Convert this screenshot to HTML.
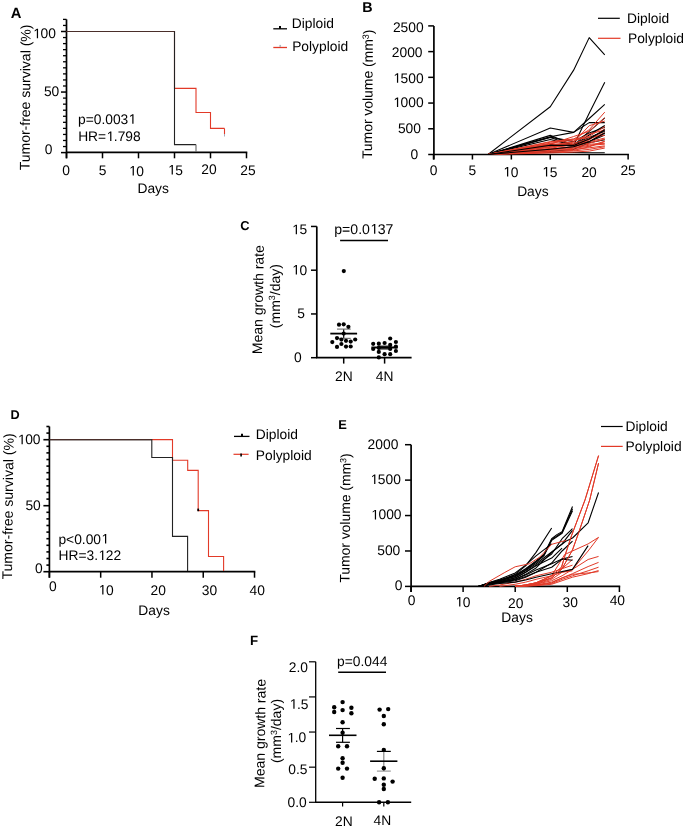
<!DOCTYPE html>
<html><head><meta charset="utf-8"><style>
html,body{margin:0;padding:0;background:#fff;}
svg{display:block;will-change:transform;}
text{font-family:"Liberation Sans",sans-serif;text-rendering:geometricPrecision;}
</style></head><body>
<svg width="685" height="830" viewBox="0 0 685 830">
<rect width="685" height="830" fill="#fff"/>
<text x="10.63" y="18.10" font-size="14.8" font-weight="bold" fill="#000" >A</text>
<line x1="66.50" y1="19.39" x2="66.50" y2="158.30" stroke="#000" stroke-width="1.7" stroke-linecap="butt"/>
<line x1="61.00" y1="152.60" x2="66.50" y2="152.60" stroke="#000" stroke-width="1.5" stroke-linecap="butt"/>
<line x1="63.00" y1="146.54" x2="66.50" y2="146.54" stroke="#000" stroke-width="1.3" stroke-linecap="butt"/>
<line x1="63.00" y1="140.49" x2="66.50" y2="140.49" stroke="#000" stroke-width="1.3" stroke-linecap="butt"/>
<line x1="63.00" y1="134.44" x2="66.50" y2="134.44" stroke="#000" stroke-width="1.3" stroke-linecap="butt"/>
<line x1="63.00" y1="128.38" x2="66.50" y2="128.38" stroke="#000" stroke-width="1.3" stroke-linecap="butt"/>
<line x1="63.00" y1="122.32" x2="66.50" y2="122.32" stroke="#000" stroke-width="1.3" stroke-linecap="butt"/>
<line x1="63.00" y1="116.27" x2="66.50" y2="116.27" stroke="#000" stroke-width="1.3" stroke-linecap="butt"/>
<line x1="63.00" y1="110.21" x2="66.50" y2="110.21" stroke="#000" stroke-width="1.3" stroke-linecap="butt"/>
<line x1="63.00" y1="104.16" x2="66.50" y2="104.16" stroke="#000" stroke-width="1.3" stroke-linecap="butt"/>
<line x1="63.00" y1="98.10" x2="66.50" y2="98.10" stroke="#000" stroke-width="1.3" stroke-linecap="butt"/>
<line x1="61.00" y1="92.05" x2="66.50" y2="92.05" stroke="#000" stroke-width="1.5" stroke-linecap="butt"/>
<line x1="63.00" y1="85.99" x2="66.50" y2="85.99" stroke="#000" stroke-width="1.3" stroke-linecap="butt"/>
<line x1="63.00" y1="79.94" x2="66.50" y2="79.94" stroke="#000" stroke-width="1.3" stroke-linecap="butt"/>
<line x1="63.00" y1="73.88" x2="66.50" y2="73.88" stroke="#000" stroke-width="1.3" stroke-linecap="butt"/>
<line x1="63.00" y1="67.83" x2="66.50" y2="67.83" stroke="#000" stroke-width="1.3" stroke-linecap="butt"/>
<line x1="63.00" y1="61.77" x2="66.50" y2="61.77" stroke="#000" stroke-width="1.3" stroke-linecap="butt"/>
<line x1="63.00" y1="55.72" x2="66.50" y2="55.72" stroke="#000" stroke-width="1.3" stroke-linecap="butt"/>
<line x1="63.00" y1="49.66" x2="66.50" y2="49.66" stroke="#000" stroke-width="1.3" stroke-linecap="butt"/>
<line x1="63.00" y1="43.61" x2="66.50" y2="43.61" stroke="#000" stroke-width="1.3" stroke-linecap="butt"/>
<line x1="63.00" y1="37.55" x2="66.50" y2="37.55" stroke="#000" stroke-width="1.3" stroke-linecap="butt"/>
<line x1="61.00" y1="31.50" x2="66.50" y2="31.50" stroke="#000" stroke-width="1.5" stroke-linecap="butt"/>
<line x1="63.00" y1="25.44" x2="66.50" y2="25.44" stroke="#000" stroke-width="1.3" stroke-linecap="butt"/>
<line x1="63.00" y1="19.39" x2="66.50" y2="19.39" stroke="#000" stroke-width="1.3" stroke-linecap="butt"/>
<line x1="66.50" y1="152.45" x2="247.30" y2="152.45" stroke="#000" stroke-width="1.7" stroke-linecap="butt"/>
<line x1="66.50" y1="152.60" x2="66.50" y2="158.30" stroke="#000" stroke-width="1.5" stroke-linecap="butt"/>
<line x1="102.50" y1="152.60" x2="102.50" y2="158.30" stroke="#000" stroke-width="1.5" stroke-linecap="butt"/>
<line x1="138.50" y1="152.60" x2="138.50" y2="158.30" stroke="#000" stroke-width="1.5" stroke-linecap="butt"/>
<line x1="174.50" y1="152.60" x2="174.50" y2="158.30" stroke="#000" stroke-width="1.5" stroke-linecap="butt"/>
<line x1="210.50" y1="152.60" x2="210.50" y2="158.30" stroke="#000" stroke-width="1.5" stroke-linecap="butt"/>
<line x1="246.50" y1="152.60" x2="246.50" y2="158.30" stroke="#000" stroke-width="1.5" stroke-linecap="butt"/>
<text x="32.83" y="38.30" font-size="13.8" fill="#000" style="font-kerning:none" > 00</text>
<path transform="translate(32.833,38.300) scale(0.006738,-0.006738)" d="M595,0 L595,1237 L277,1010 L277,1180 L610,1409 L776,1409 L776,0 Z" fill="#000"/>
<text x="43.95" y="96.10" font-size="13.8" fill="#000" >50</text>
<text x="44.86" y="154.20" font-size="13.8" fill="#000" >0</text>
<text x="62.26" y="174.60" font-size="13.8" fill="#000" >0</text>
<text x="98.75" y="174.60" font-size="13.8" fill="#000" >5</text>
<text x="128.63" y="175.60" font-size="13.8" fill="#000" style="font-kerning:none" > 0</text>
<path transform="translate(128.633,175.600) scale(0.006738,-0.006738)" d="M595,0 L595,1237 L277,1010 L277,1180 L610,1409 L776,1409 L776,0 Z" fill="#000"/>
<text x="167.63" y="174.60" font-size="13.8" fill="#000" style="font-kerning:none" > 5</text>
<path transform="translate(167.633,174.600) scale(0.006738,-0.006738)" d="M595,0 L595,1237 L277,1010 L277,1180 L610,1409 L776,1409 L776,0 Z" fill="#000"/>
<text x="201.31" y="174.00" font-size="13.8" fill="#000" >20</text>
<text x="240.21" y="174.70" font-size="13.8" fill="#000" >25</text>
<text x="137.47" y="193.30" font-size="13.8" fill="#000" >Days</text>
<text transform="translate(30.10,97.45) rotate(-89.6)" text-anchor="middle" font-size="14.0">Tumor-free survival (%)</text>
<path d="M66.5,31.5 H174.5 V88.4 H196.0 V112.5 H210.5 V128.4 H224.5" fill="none" stroke="#e23a28" stroke-width="1.1" />
<line x1="224.50" y1="128.40" x2="224.50" y2="134.00" stroke="#e23a28" stroke-width="1.1" stroke-linecap="butt"/>
<line x1="224.50" y1="134.00" x2="224.50" y2="136.50" stroke="#aab" stroke-width="1.0" stroke-linecap="butt"/>
<path d="M66.5,31.5 H174.5 V144.6 H196.0" fill="none" stroke="#222" stroke-width="1.1" />
<line x1="196.00" y1="144.60" x2="196.00" y2="152.00" stroke="#666" stroke-width="1.1" stroke-linecap="butt"/>
<line x1="66.50" y1="31.50" x2="174.50" y2="31.50" stroke="#4a2e2a" stroke-width="1.1" stroke-linecap="butt"/>
<text x="78.01" y="123.80" font-size="13.8" fill="#000" style="font-kerning:none" >p=0.003 </text>
<path transform="translate(128.278,123.800) scale(0.006738,-0.006738)" d="M595,0 L595,1237 L277,1010 L277,1180 L610,1409 L776,1409 L776,0 Z" fill="#000"/>
<text x="78.17" y="141.10" font-size="13.8" fill="#000" style="font-kerning:none" >HR= .798</text>
<path transform="translate(106.159,141.100) scale(0.006738,-0.006738)" d="M595,0 L595,1237 L277,1010 L277,1180 L610,1409 L776,1409 L776,0 Z" fill="#000"/>
<line x1="273.30" y1="28.80" x2="287.00" y2="28.80" stroke="#000" stroke-width="1.3" stroke-linecap="butt"/>
<line x1="280.00" y1="26.00" x2="280.00" y2="28.80" stroke="#000" stroke-width="2.0" stroke-linecap="butt"/>
<text x="291.77" y="27.90" font-size="13.8" fill="#000" >Diploid</text>
<line x1="273.30" y1="47.50" x2="287.00" y2="47.50" stroke="#e23a28" stroke-width="1.3" stroke-linecap="butt"/>
<line x1="280.20" y1="44.90" x2="280.20" y2="47.00" stroke="#b4b8bd" stroke-width="1.7" stroke-linecap="butt"/>
<text x="292.17" y="51.30" font-size="13.8" fill="#000" >Polyploid</text>
<text x="362.34" y="12.10" font-size="14.3" font-weight="bold" fill="#000" >B</text>
<line x1="433.90" y1="25.90" x2="433.90" y2="159.50" stroke="#000" stroke-width="1.7" stroke-linecap="butt"/>
<line x1="428.20" y1="154.50" x2="433.90" y2="154.50" stroke="#000" stroke-width="1.5" stroke-linecap="butt"/>
<line x1="428.20" y1="128.78" x2="433.90" y2="128.78" stroke="#000" stroke-width="1.5" stroke-linecap="butt"/>
<line x1="428.20" y1="103.06" x2="433.90" y2="103.06" stroke="#000" stroke-width="1.5" stroke-linecap="butt"/>
<line x1="428.20" y1="77.34" x2="433.90" y2="77.34" stroke="#000" stroke-width="1.5" stroke-linecap="butt"/>
<line x1="428.20" y1="51.62" x2="433.90" y2="51.62" stroke="#000" stroke-width="1.5" stroke-linecap="butt"/>
<line x1="428.20" y1="25.90" x2="433.90" y2="25.90" stroke="#000" stroke-width="1.5" stroke-linecap="butt"/>
<line x1="433.90" y1="154.50" x2="628.92" y2="154.50" stroke="#000" stroke-width="1.7" stroke-linecap="butt"/>
<line x1="433.50" y1="154.50" x2="433.50" y2="159.50" stroke="#000" stroke-width="1.5" stroke-linecap="butt"/>
<line x1="472.43" y1="154.50" x2="472.43" y2="159.50" stroke="#000" stroke-width="1.5" stroke-linecap="butt"/>
<line x1="511.35" y1="154.50" x2="511.35" y2="159.50" stroke="#000" stroke-width="1.5" stroke-linecap="butt"/>
<line x1="550.27" y1="154.50" x2="550.27" y2="159.50" stroke="#000" stroke-width="1.5" stroke-linecap="butt"/>
<line x1="589.20" y1="154.50" x2="589.20" y2="159.50" stroke="#000" stroke-width="1.5" stroke-linecap="butt"/>
<line x1="628.12" y1="154.50" x2="628.12" y2="159.50" stroke="#000" stroke-width="1.5" stroke-linecap="butt"/>
<text x="410.46" y="159.40" font-size="13.8" fill="#000" >0</text>
<text x="397.91" y="133.08" font-size="13.8" fill="#000" >500</text>
<text x="392.94" y="107.06" font-size="13.8" fill="#000" style="font-kerning:none" > 000</text>
<path transform="translate(392.939,107.060) scale(0.006738,-0.006738)" d="M595,0 L595,1237 L277,1010 L277,1180 L610,1409 L776,1409 L776,0 Z" fill="#000"/>
<text x="392.94" y="82.84" font-size="13.8" fill="#000" style="font-kerning:none" > 500</text>
<path transform="translate(392.939,82.840) scale(0.006738,-0.006738)" d="M595,0 L595,1237 L277,1010 L277,1180 L610,1409 L776,1409 L776,0 Z" fill="#000"/>
<text x="391.84" y="56.82" font-size="13.8" fill="#000" >2000</text>
<text x="392.94" y="31.60" font-size="13.8" fill="#000" >2500</text>
<text x="429.66" y="175.20" font-size="13.8" fill="#000" >0</text>
<text x="468.60" y="175.20" font-size="13.8" fill="#000" >5</text>
<text x="503.01" y="176.50" font-size="13.8" fill="#000" style="font-kerning:none" > 0</text>
<path transform="translate(503.011,176.500) scale(0.006738,-0.006738)" d="M595,0 L595,1237 L277,1010 L277,1180 L610,1409 L776,1409 L776,0 Z" fill="#000"/>
<text x="541.96" y="176.50" font-size="13.8" fill="#000" style="font-kerning:none" > 5</text>
<path transform="translate(541.957,176.500) scale(0.006738,-0.006738)" d="M595,0 L595,1237 L277,1010 L277,1180 L610,1409 L776,1409 L776,0 Z" fill="#000"/>
<text x="581.45" y="176.80" font-size="13.8" fill="#000" >20</text>
<text x="620.39" y="175.40" font-size="13.8" fill="#000" >25</text>
<text x="517.17" y="196.20" font-size="13.8" fill="#000" >Days</text>
<text transform="translate(372.5,94.35) rotate(-89.55)" text-anchor="middle" font-size="13.9">Tumor volume (mm<tspan font-size="9" dy="-4.2">3</tspan><tspan dy="4.2">)</tspan></text>
<path d="M488.00,154.50 L550.27,106.71 L573.63,70.14 L589.20,37.63 L604.77,54.76" fill="none" stroke="#000" stroke-width="1.1" stroke-linejoin="round"/>
<path d="M488.00,154.50 L550.27,135.36 L573.63,145.40 L589.20,113.35 L604.77,82.33" fill="none" stroke="#000" stroke-width="1.1" stroke-linejoin="round"/>
<path d="M488.00,154.50 L550.27,136.75 L573.63,132.38 L589.20,118.49 L604.77,104.29" fill="none" stroke="#000" stroke-width="1.1" stroke-linejoin="round"/>
<path d="M488.00,154.50 L550.27,128.01 L573.63,132.38 L589.20,122.61 L604.77,122.61" fill="none" stroke="#000" stroke-width="1.1" stroke-linejoin="round"/>
<path d="M488.00,154.50 L550.27,137.52 L573.63,145.40 L589.20,131.35 L604.77,117.82" fill="none" stroke="#000" stroke-width="1.1" stroke-linejoin="round"/>
<path d="M488.00,154.50 L550.27,139.48 L573.63,145.40 L589.20,134.95 L604.77,125.44" fill="none" stroke="#000" stroke-width="1.1" stroke-linejoin="round"/>
<path d="M488.00,154.50 L550.27,137.16 L573.63,141.64 L589.20,132.90 L604.77,127.34" fill="none" stroke="#000" stroke-width="1.1" stroke-linejoin="round"/>
<path d="M488.00,154.50 L550.27,146.78 L573.63,144.21 L589.20,137.52 L604.77,131.35" fill="none" stroke="#000" stroke-width="1.1" stroke-linejoin="round"/>
<path d="M488.00,154.50 L550.27,144.21 L573.63,146.27 L589.20,141.64 L604.77,134.95" fill="none" stroke="#000" stroke-width="1.1" stroke-linejoin="round"/>
<path d="M488.00,154.50 L550.27,151.41 L573.63,149.36 L589.20,142.67 L604.77,139.69" fill="none" stroke="#000" stroke-width="1.1" stroke-linejoin="round"/>
<path d="M488.00,154.50 L550.27,152.39 L573.63,152.44 L589.20,152.70 L604.77,152.80" fill="none" stroke="#000" stroke-width="1.1" stroke-linejoin="round"/>
<path d="M488.00,154.50 L550.27,145.19 L573.63,145.40 L589.20,139.07 L604.77,129.76" fill="none" stroke="#000" stroke-width="1.1" stroke-linejoin="round"/>
<path d="M488.00,154.50 L550.27,149.20 L573.63,146.78 L589.20,141.64 L604.77,133.05" fill="none" stroke="#000" stroke-width="1.1" stroke-linejoin="round"/>
<path d="M488.00,154.50 L550.27,141.64 L573.63,139.07 L589.20,129.81 L604.77,112.11" fill="none" stroke="#e23a28" stroke-width="1.0" stroke-linejoin="round"/>
<path d="M488.00,154.50 L550.27,144.21 L573.63,136.50 L589.20,131.35 L604.77,117.82" fill="none" stroke="#e23a28" stroke-width="1.0" stroke-linejoin="round"/>
<path d="M488.00,154.50 L550.27,142.15 L573.63,139.07 L589.20,136.50 L604.77,126.62" fill="none" stroke="#e23a28" stroke-width="1.0" stroke-linejoin="round"/>
<path d="M488.00,154.50 L550.27,145.24 L573.63,141.64 L589.20,133.92 L604.77,130.17" fill="none" stroke="#e23a28" stroke-width="1.0" stroke-linejoin="round"/>
<path d="M488.00,154.50 L550.27,146.78 L573.63,143.18 L589.20,139.07 L604.77,132.74" fill="none" stroke="#e23a28" stroke-width="1.0" stroke-linejoin="round"/>
<path d="M488.00,154.50 L550.27,143.18 L573.63,140.10 L589.20,137.52 L604.77,135.36" fill="none" stroke="#e23a28" stroke-width="1.0" stroke-linejoin="round"/>
<path d="M488.00,154.50 L550.27,148.33 L573.63,144.21 L589.20,141.64 L604.77,138.04" fill="none" stroke="#e23a28" stroke-width="1.0" stroke-linejoin="round"/>
<path d="M488.00,154.50 L550.27,149.36 L573.63,146.78 L589.20,144.21 L604.77,143.29" fill="none" stroke="#e23a28" stroke-width="1.0" stroke-linejoin="round"/>
<path d="M488.00,154.50 L550.27,150.38 L573.63,149.36 L589.20,147.81 L604.77,145.86" fill="none" stroke="#e23a28" stroke-width="1.0" stroke-linejoin="round"/>
<path d="M488.00,154.50 L550.27,152.96 L573.63,152.08 L589.20,151.10 L604.77,148.07" fill="none" stroke="#e23a28" stroke-width="1.0" stroke-linejoin="round"/>
<path d="M488.00,154.50 L550.27,145.76 L573.63,142.15 L589.20,125.69 L604.77,121.06" fill="none" stroke="#e23a28" stroke-width="1.0" stroke-linejoin="round"/>
<path d="M488.00,154.50 L550.27,147.30 L573.63,145.24 L589.20,140.10 L604.77,128.78" fill="none" stroke="#e23a28" stroke-width="1.0" stroke-linejoin="round"/>
<path d="M488.00,154.50 L550.27,151.41 L573.63,150.38 L589.20,146.78 L604.77,141.64" fill="none" stroke="#e23a28" stroke-width="1.0" stroke-linejoin="round"/>
<path d="M488.00,154.50 L550.27,143.70 L573.63,145.24 L589.20,143.18 L604.77,139.07" fill="none" stroke="#e23a28" stroke-width="1.0" stroke-linejoin="round"/>
<path d="M488.00,154.50 L550.27,148.84 L573.63,147.81 L589.20,145.24 L604.77,144.21" fill="none" stroke="#e23a28" stroke-width="1.0" stroke-linejoin="round"/>
<path d="M488.00,154.50 L550.27,152.19 L573.63,150.90 L589.20,149.36 L604.77,146.78" fill="none" stroke="#e23a28" stroke-width="1.0" stroke-linejoin="round"/>
<path d="M488.00,154.50 L550.27,149.87 L573.63,148.33 L589.20,146.27 L604.77,141.13" fill="none" stroke="#e23a28" stroke-width="1.0" stroke-linejoin="round"/>
<path d="M488.00,154.50 L550.27,145.19 L573.63,145.40 L589.20,139.07 L604.77,129.76" fill="none" stroke="#000" stroke-width="1.1" stroke-linejoin="round"/>
<path d="M488.00,154.50 L550.27,149.20 L573.63,146.78 L589.20,141.64 L604.77,133.05" fill="none" stroke="#000" stroke-width="1.1" stroke-linejoin="round"/>
<line x1="598.00" y1="18.30" x2="619.80" y2="18.30" stroke="#000" stroke-width="1.2" stroke-linecap="butt"/>
<line x1="598.00" y1="38.30" x2="620.50" y2="38.30" stroke="#e23a28" stroke-width="1.2" stroke-linecap="butt"/>
<text x="627.07" y="22.60" font-size="13.8" fill="#000" >Diploid</text>
<text x="627.97" y="42.80" font-size="13.8" fill="#000" >Polyploid</text>
<text x="240.37" y="230.20" font-size="12.9" font-weight="bold" fill="#000" >C</text>
<line x1="316.80" y1="226.45" x2="316.80" y2="357.70" stroke="#000" stroke-width="1.7" stroke-linecap="butt"/>
<line x1="311.00" y1="357.70" x2="316.80" y2="357.70" stroke="#000" stroke-width="1.5" stroke-linecap="butt"/>
<line x1="311.00" y1="313.95" x2="316.80" y2="313.95" stroke="#000" stroke-width="1.5" stroke-linecap="butt"/>
<line x1="311.00" y1="270.20" x2="316.80" y2="270.20" stroke="#000" stroke-width="1.5" stroke-linecap="butt"/>
<line x1="311.00" y1="226.45" x2="316.80" y2="226.45" stroke="#000" stroke-width="1.5" stroke-linecap="butt"/>
<line x1="316.00" y1="357.70" x2="411.60" y2="357.70" stroke="#000" stroke-width="1.7" stroke-linecap="butt"/>
<line x1="343.70" y1="357.70" x2="343.70" y2="363.60" stroke="#000" stroke-width="1.5" stroke-linecap="butt"/>
<line x1="384.60" y1="357.70" x2="384.60" y2="363.60" stroke="#000" stroke-width="1.5" stroke-linecap="butt"/>
<text x="291.73" y="234.20" font-size="13.8" fill="#000" style="font-kerning:none" > 5</text>
<path transform="translate(291.733,234.200) scale(0.006738,-0.006738)" d="M595,0 L595,1237 L277,1010 L277,1180 L610,1409 L776,1409 L776,0 Z" fill="#000"/>
<text x="291.73" y="274.60" font-size="13.8" fill="#000" style="font-kerning:none" > 0</text>
<path transform="translate(291.733,274.600) scale(0.006738,-0.006738)" d="M595,0 L595,1237 L277,1010 L277,1180 L610,1409 L776,1409 L776,0 Z" fill="#000"/>
<text x="297.35" y="318.10" font-size="13.8" fill="#000" >5</text>
<text x="293.96" y="362.40" font-size="13.8" fill="#000" >0</text>
<text x="335.01" y="381.10" font-size="13.8" fill="#000" >2N</text>
<text x="375.78" y="381.10" font-size="13.8" fill="#000" >4N</text>
<text x="334.29" y="233.80" font-size="14.1" fill="#000" style="font-kerning:none" >p=0.0 37</text>
<path transform="translate(369.968,233.800) scale(0.006885,-0.006885)" d="M595,0 L595,1237 L277,1010 L277,1180 L610,1409 L776,1409 L776,0 Z" fill="#000"/>
<line x1="340.10" y1="240.40" x2="388.00" y2="240.40" stroke="#000" stroke-width="1.5" stroke-linecap="butt"/>
<text transform="translate(262.9,299.7) rotate(-89)" text-anchor="middle" font-size="14.0">Mean growth rate</text>
<text transform="translate(279.5,296.1) rotate(-90)" text-anchor="middle" font-size="14.0">(mm<tspan font-size="9" dy="-4.2">3</tspan><tspan dy="4.2">/day)</tspan></text>
<line x1="343.70" y1="329.10" x2="343.70" y2="338.40" stroke="#000" stroke-width="1.2" stroke-linecap="butt"/>
<line x1="337.00" y1="329.10" x2="350.70" y2="329.10" stroke="#777" stroke-width="1.2" stroke-linecap="butt"/>
<line x1="337.00" y1="338.40" x2="350.70" y2="338.40" stroke="#777" stroke-width="1.2" stroke-linecap="butt"/>
<circle cx="339.00" cy="324.70" r="2.1" fill="#000"/>
<circle cx="343.70" cy="324.30" r="2.1" fill="#000"/>
<circle cx="348.40" cy="326.80" r="2.1" fill="#000"/>
<circle cx="343.70" cy="333.60" r="2.1" fill="#000"/>
<circle cx="337.00" cy="338.10" r="2.1" fill="#000"/>
<circle cx="341.40" cy="339.60" r="2.1" fill="#000"/>
<circle cx="346.00" cy="340.80" r="2.1" fill="#000"/>
<circle cx="350.70" cy="341.60" r="2.1" fill="#000"/>
<circle cx="355.20" cy="339.50" r="2.1" fill="#000"/>
<circle cx="332.30" cy="342.10" r="2.1" fill="#000"/>
<circle cx="341.40" cy="344.00" r="2.1" fill="#000"/>
<circle cx="337.00" cy="346.90" r="2.1" fill="#000"/>
<circle cx="346.00" cy="346.60" r="2.1" fill="#000"/>
<circle cx="350.70" cy="346.50" r="2.1" fill="#000"/>
<circle cx="343.80" cy="271.10" r="2.1" fill="#000"/>
<line x1="330.30" y1="333.60" x2="357.10" y2="333.60" stroke="#000" stroke-width="1.8" stroke-linecap="butt"/>
<circle cx="390.20" cy="338.50" r="2.1" fill="#000"/>
<circle cx="373.20" cy="343.80" r="2.1" fill="#000"/>
<circle cx="378.80" cy="343.70" r="2.1" fill="#000"/>
<circle cx="384.60" cy="343.00" r="2.1" fill="#000"/>
<circle cx="395.90" cy="342.00" r="2.1" fill="#000"/>
<circle cx="390.20" cy="344.90" r="2.1" fill="#000"/>
<circle cx="373.20" cy="349.00" r="2.1" fill="#000"/>
<circle cx="395.90" cy="346.60" r="2.1" fill="#000"/>
<circle cx="390.20" cy="349.00" r="2.1" fill="#000"/>
<circle cx="378.80" cy="351.90" r="2.1" fill="#000"/>
<circle cx="395.90" cy="351.00" r="2.1" fill="#000"/>
<circle cx="384.60" cy="354.20" r="2.1" fill="#000"/>
<circle cx="390.20" cy="354.20" r="2.1" fill="#000"/>
<circle cx="378.80" cy="357.40" r="2.1" fill="#000"/>
<circle cx="378.80" cy="347.80" r="2.1" fill="#000"/>
<line x1="377.70" y1="346.20" x2="391.50" y2="346.20" stroke="#000" stroke-width="1.2" stroke-linecap="butt"/>
<line x1="377.70" y1="348.90" x2="391.50" y2="348.90" stroke="#000" stroke-width="1.2" stroke-linecap="butt"/>
<line x1="371.40" y1="347.50" x2="397.70" y2="347.50" stroke="#000" stroke-width="2.0" stroke-linecap="butt"/>
<text x="10.55" y="418.50" font-size="12.7" font-weight="bold" fill="#000" >D</text>
<line x1="49.40" y1="426.50" x2="49.40" y2="577.70" stroke="#000" stroke-width="1.7" stroke-linecap="butt"/>
<line x1="43.40" y1="571.70" x2="49.40" y2="571.70" stroke="#000" stroke-width="1.6" stroke-linecap="butt"/>
<line x1="46.40" y1="565.10" x2="49.40" y2="565.10" stroke="#000" stroke-width="1.6" stroke-linecap="butt"/>
<line x1="46.40" y1="558.50" x2="49.40" y2="558.50" stroke="#000" stroke-width="1.6" stroke-linecap="butt"/>
<line x1="46.40" y1="551.90" x2="49.40" y2="551.90" stroke="#000" stroke-width="1.6" stroke-linecap="butt"/>
<line x1="46.40" y1="545.30" x2="49.40" y2="545.30" stroke="#000" stroke-width="1.6" stroke-linecap="butt"/>
<line x1="46.40" y1="538.70" x2="49.40" y2="538.70" stroke="#000" stroke-width="1.6" stroke-linecap="butt"/>
<line x1="46.40" y1="532.10" x2="49.40" y2="532.10" stroke="#000" stroke-width="1.6" stroke-linecap="butt"/>
<line x1="46.40" y1="525.50" x2="49.40" y2="525.50" stroke="#000" stroke-width="1.6" stroke-linecap="butt"/>
<line x1="46.40" y1="518.90" x2="49.40" y2="518.90" stroke="#000" stroke-width="1.6" stroke-linecap="butt"/>
<line x1="46.40" y1="512.30" x2="49.40" y2="512.30" stroke="#000" stroke-width="1.6" stroke-linecap="butt"/>
<line x1="43.40" y1="505.70" x2="49.40" y2="505.70" stroke="#000" stroke-width="1.6" stroke-linecap="butt"/>
<line x1="46.40" y1="499.10" x2="49.40" y2="499.10" stroke="#000" stroke-width="1.6" stroke-linecap="butt"/>
<line x1="46.40" y1="492.50" x2="49.40" y2="492.50" stroke="#000" stroke-width="1.6" stroke-linecap="butt"/>
<line x1="46.40" y1="485.90" x2="49.40" y2="485.90" stroke="#000" stroke-width="1.6" stroke-linecap="butt"/>
<line x1="46.40" y1="479.30" x2="49.40" y2="479.30" stroke="#000" stroke-width="1.6" stroke-linecap="butt"/>
<line x1="46.40" y1="472.70" x2="49.40" y2="472.70" stroke="#000" stroke-width="1.6" stroke-linecap="butt"/>
<line x1="46.40" y1="466.10" x2="49.40" y2="466.10" stroke="#000" stroke-width="1.6" stroke-linecap="butt"/>
<line x1="46.40" y1="459.50" x2="49.40" y2="459.50" stroke="#000" stroke-width="1.6" stroke-linecap="butt"/>
<line x1="46.40" y1="452.90" x2="49.40" y2="452.90" stroke="#000" stroke-width="1.6" stroke-linecap="butt"/>
<line x1="46.40" y1="446.30" x2="49.40" y2="446.30" stroke="#000" stroke-width="1.6" stroke-linecap="butt"/>
<line x1="43.40" y1="439.70" x2="49.40" y2="439.70" stroke="#000" stroke-width="1.6" stroke-linecap="butt"/>
<line x1="46.40" y1="433.10" x2="49.40" y2="433.10" stroke="#000" stroke-width="1.6" stroke-linecap="butt"/>
<line x1="46.40" y1="426.50" x2="49.40" y2="426.50" stroke="#000" stroke-width="1.6" stroke-linecap="butt"/>
<line x1="49.40" y1="571.70" x2="255.32" y2="571.70" stroke="#000" stroke-width="1.7" stroke-linecap="butt"/>
<line x1="49.40" y1="571.70" x2="49.40" y2="577.70" stroke="#000" stroke-width="1.5" stroke-linecap="butt"/>
<line x1="100.68" y1="571.70" x2="100.68" y2="577.70" stroke="#000" stroke-width="1.5" stroke-linecap="butt"/>
<line x1="151.96" y1="571.70" x2="151.96" y2="577.70" stroke="#000" stroke-width="1.5" stroke-linecap="butt"/>
<line x1="203.24" y1="571.70" x2="203.24" y2="577.70" stroke="#000" stroke-width="1.5" stroke-linecap="butt"/>
<line x1="254.52" y1="571.70" x2="254.52" y2="577.70" stroke="#000" stroke-width="1.5" stroke-linecap="butt"/>
<text x="17.53" y="444.20" font-size="13.8" fill="#000" style="font-kerning:none" > 00</text>
<path transform="translate(17.533,444.200) scale(0.006738,-0.006738)" d="M595,0 L595,1237 L277,1010 L277,1180 L610,1409 L776,1409 L776,0 Z" fill="#000"/>
<text x="25.45" y="509.50" font-size="13.8" fill="#000" >50</text>
<text x="35.06" y="573.10" font-size="13.8" fill="#000" >0</text>
<text x="49.06" y="590.80" font-size="13.8" fill="#000" >0</text>
<text x="98.23" y="594.60" font-size="13.8" fill="#000" style="font-kerning:none" > 0</text>
<path transform="translate(98.233,594.600) scale(0.006738,-0.006738)" d="M595,0 L595,1237 L277,1010 L277,1180 L610,1409 L776,1409 L776,0 Z" fill="#000"/>
<text x="150.51" y="594.80" font-size="13.8" fill="#000" >20</text>
<text x="201.87" y="595.00" font-size="13.8" fill="#000" >30</text>
<text x="249.48" y="594.70" font-size="13.8" fill="#000" >40</text>
<text x="138.37" y="614.90" font-size="13.8" fill="#000" >Days</text>
<text transform="translate(12.80,506.45) rotate(-89.37)" text-anchor="middle" font-size="14.05">Tumor-free survival (%)</text>
<path d="M152.0,439.6 H172.5 V460.3 H187.7 V470.4 H198.2 V510.6 H208.5 V556.5 H223.6 V571.0" fill="none" stroke="#e23a28" stroke-width="1.1" />
<path d="M49.4,439.6 H151.8 V457.5 H172.5 V536.4 H187.6 V571.0" fill="none" stroke="#222" stroke-width="1.1" />
<line x1="49.40" y1="439.60" x2="151.80" y2="439.60" stroke="#4a2e2a" stroke-width="1.1" stroke-linecap="butt"/>
<line x1="198.20" y1="508.60" x2="198.20" y2="511.20" stroke="#000" stroke-width="1.8" stroke-linecap="butt"/>
<text x="58.41" y="543.60" font-size="13.8" fill="#000" style="font-kerning:none" >p&lt;0.00 </text>
<path transform="translate(101.003,543.600) scale(0.006738,-0.006738)" d="M595,0 L595,1237 L277,1010 L277,1180 L610,1409 L776,1409 L776,0 Z" fill="#000"/>
<text x="58.57" y="559.90" font-size="13.8" fill="#000" style="font-kerning:none" >HR=3. 22</text>
<path transform="translate(98.068,559.900) scale(0.006738,-0.006738)" d="M595,0 L595,1237 L277,1010 L277,1180 L610,1409 L776,1409 L776,0 Z" fill="#000"/>
<line x1="234.00" y1="436.40" x2="249.50" y2="436.40" stroke="#000" stroke-width="1.3" stroke-linecap="butt"/>
<line x1="242.00" y1="433.80" x2="242.00" y2="436.40" stroke="#000" stroke-width="2.0" stroke-linecap="butt"/>
<text x="255.77" y="438.90" font-size="13.8" fill="#000" >Diploid</text>
<line x1="233.50" y1="454.30" x2="248.60" y2="454.30" stroke="#e23a28" stroke-width="1.2" stroke-linecap="butt"/>
<line x1="241.10" y1="453.40" x2="241.10" y2="456.50" stroke="#000" stroke-width="1.6" stroke-linecap="butt"/>
<text x="255.77" y="460.40" font-size="13.8" fill="#000" >Polyploid</text>
<text x="338.24" y="429.40" font-size="12.9" font-weight="bold" fill="#000" >E</text>
<line x1="411.10" y1="444.70" x2="411.10" y2="592.00" stroke="#000" stroke-width="1.7" stroke-linecap="butt"/>
<line x1="405.00" y1="586.40" x2="411.10" y2="586.40" stroke="#000" stroke-width="1.5" stroke-linecap="butt"/>
<line x1="405.00" y1="550.98" x2="411.10" y2="550.98" stroke="#000" stroke-width="1.5" stroke-linecap="butt"/>
<line x1="405.00" y1="515.55" x2="411.10" y2="515.55" stroke="#000" stroke-width="1.5" stroke-linecap="butt"/>
<line x1="405.00" y1="480.12" x2="411.10" y2="480.12" stroke="#000" stroke-width="1.5" stroke-linecap="butt"/>
<line x1="405.00" y1="444.70" x2="411.10" y2="444.70" stroke="#000" stroke-width="1.5" stroke-linecap="butt"/>
<line x1="411.10" y1="586.40" x2="620.20" y2="586.40" stroke="#000" stroke-width="1.7" stroke-linecap="butt"/>
<line x1="411.00" y1="586.40" x2="411.00" y2="592.00" stroke="#000" stroke-width="1.5" stroke-linecap="butt"/>
<line x1="463.10" y1="586.40" x2="463.10" y2="592.00" stroke="#000" stroke-width="1.5" stroke-linecap="butt"/>
<line x1="515.20" y1="586.40" x2="515.20" y2="592.00" stroke="#000" stroke-width="1.5" stroke-linecap="butt"/>
<line x1="567.30" y1="586.40" x2="567.30" y2="592.00" stroke="#000" stroke-width="1.5" stroke-linecap="butt"/>
<line x1="619.40" y1="586.40" x2="619.40" y2="592.00" stroke="#000" stroke-width="1.5" stroke-linecap="butt"/>
<text x="367.61" y="448.90" font-size="13.8" fill="#000" >2000</text>
<text x="370.13" y="484.10" font-size="13.8" fill="#000" style="font-kerning:none" > 500</text>
<path transform="translate(370.133,484.100) scale(0.006738,-0.006738)" d="M595,0 L595,1237 L277,1010 L277,1180 L610,1409 L776,1409 L776,0 Z" fill="#000"/>
<text x="370.83" y="519.40" font-size="13.8" fill="#000" style="font-kerning:none" > 000</text>
<path transform="translate(370.833,519.400) scale(0.006738,-0.006738)" d="M595,0 L595,1237 L277,1010 L277,1180 L610,1409 L776,1409 L776,0 Z" fill="#000"/>
<text x="377.25" y="555.00" font-size="13.8" fill="#000" >500</text>
<text x="394.86" y="590.10" font-size="13.8" fill="#000" >0</text>
<text x="407.86" y="604.90" font-size="13.8" fill="#000" >0</text>
<text x="455.13" y="606.50" font-size="13.8" fill="#000" style="font-kerning:none" > 0</text>
<path transform="translate(455.133,606.500) scale(0.006738,-0.006738)" d="M595,0 L595,1237 L277,1010 L277,1180 L610,1409 L776,1409 L776,0 Z" fill="#000"/>
<text x="508.01" y="607.50" font-size="13.8" fill="#000" >20</text>
<text x="562.47" y="607.30" font-size="13.8" fill="#000" >30</text>
<text x="609.68" y="605.20" font-size="13.8" fill="#000" >40</text>
<text x="501.37" y="621.60" font-size="13.8" fill="#000" >Days</text>
<text transform="translate(350.05,518.05) rotate(-89.5)" text-anchor="middle" font-size="13.9">Tumor volume (mm<tspan font-size="9" dy="-4.2">3</tspan><tspan dy="4.2">)</tspan></text>
<path d="M515.20,586.40 L525.62,584.98 L536.04,582.86 L551.67,575.77 L561.57,567.20 L564.69,556.43 L571.47,535.81 L585.01,499.96 L598.56,455.61" fill="none" stroke="#e23a28" stroke-width="1.0" stroke-linejoin="round"/>
<path d="M515.20,586.40 L525.62,585.69 L536.04,583.57 L551.67,577.90 L562.09,568.69 L572.51,549.91 L578.76,532.48 L589.70,499.96 L598.56,463.19" fill="none" stroke="#e23a28" stroke-width="1.0" stroke-linejoin="round"/>
<path d="M515.20,586.40 L525.62,584.98 L536.04,582.86 L551.67,575.77 L564.69,554.52 L572.51,550.98 L588.14,543.89 L598.56,537.37" fill="none" stroke="#e23a28" stroke-width="1.0" stroke-linejoin="round"/>
<path d="M515.20,586.40 L525.62,585.69 L536.04,584.27 L551.67,580.73 L562.09,575.77 L572.51,569.40 L588.14,559.48 L598.56,556.43" fill="none" stroke="#e23a28" stroke-width="1.0" stroke-linejoin="round"/>
<path d="M515.20,586.40 L525.62,585.69 L536.04,584.98 L551.67,582.15 L562.09,577.90 L572.51,573.65 L588.14,566.56 L598.56,562.38" fill="none" stroke="#e23a28" stroke-width="1.0" stroke-linejoin="round"/>
<path d="M515.20,586.40 L525.62,586.05 L536.04,584.98 L551.67,583.57 L562.09,579.31 L572.51,575.77 L588.14,570.81 L598.56,567.20" fill="none" stroke="#e23a28" stroke-width="1.0" stroke-linejoin="round"/>
<path d="M515.20,586.40 L525.62,586.05 L536.04,585.69 L551.67,584.27 L562.09,580.73 L572.51,577.19 L588.14,573.65 L598.56,570.53" fill="none" stroke="#e23a28" stroke-width="1.0" stroke-linejoin="round"/>
<path d="M515.20,586.40 L525.62,586.05 L536.04,585.34 L551.67,582.86 L562.09,577.90 L572.51,574.36 L588.14,572.94 L598.56,571.59" fill="none" stroke="#e23a28" stroke-width="1.0" stroke-linejoin="round"/>
<path d="M499.57,586.40 L515.20,584.27 L525.62,582.15 L536.04,579.31 L551.67,575.77 L562.09,572.23 L572.51,570.81" fill="none" stroke="#e23a28" stroke-width="1.0" stroke-linejoin="round"/>
<path d="M489.15,586.40 L499.57,584.98 L515.20,582.15 L525.62,579.31 L536.04,575.77 L551.67,572.23 L562.09,568.69 L572.51,565.14" fill="none" stroke="#e23a28" stroke-width="1.0" stroke-linejoin="round"/>
<path d="M515.20,586.40 L525.62,584.98 L536.04,582.86 L551.67,577.90 L562.09,568.69 L572.51,559.48" fill="none" stroke="#e23a28" stroke-width="1.0" stroke-linejoin="round"/>
<path d="M515.20,586.40 L525.62,585.69 L536.04,584.27 L551.67,579.31 L562.09,572.23 L572.51,569.40 L588.14,550.98 L598.56,537.37" fill="none" stroke="#e23a28" stroke-width="1.0" stroke-linejoin="round"/>
<path d="M478.73,586.40 L489.15,583.57 L499.57,580.73 L515.20,574.36 L525.62,565.85 L536.04,552.39 L551.67,528.02" fill="none" stroke="#000" stroke-width="1.1" stroke-linejoin="round"/>
<path d="M478.73,586.40 L489.15,582.86 L499.57,580.02 L515.20,575.06 L525.62,568.69 L536.04,560.89 L543.86,554.52 L551.67,538.72 L556.88,534.61 L562.09,531.63 L572.51,506.48" fill="none" stroke="#000" stroke-width="1.1" stroke-linejoin="round"/>
<path d="M478.73,586.40 L489.15,583.21 L499.57,580.38 L515.20,575.77 L525.62,569.40 L536.04,561.60 L543.86,555.23 L551.67,539.64 L562.09,532.55 L572.51,508.68" fill="none" stroke="#000" stroke-width="1.1" stroke-linejoin="round"/>
<path d="M478.73,586.40 L489.15,582.86 L499.57,580.73 L515.20,576.48 L525.62,570.10 L536.04,562.31 L543.86,555.93 L551.67,540.35 L562.09,533.26 L572.51,510.80" fill="none" stroke="#000" stroke-width="1.1" stroke-linejoin="round"/>
<path d="M478.73,586.40 L489.15,583.92 L499.57,581.79 L515.20,577.90 L525.62,572.23 L536.04,565.14 L551.67,554.02 L562.09,538.72 L572.51,528.52" fill="none" stroke="#000" stroke-width="1.1" stroke-linejoin="round"/>
<path d="M478.73,586.40 L489.15,583.57 L499.57,582.15 L515.20,579.31 L525.62,574.36 L536.04,567.98 L551.67,552.39 L565.74,541.20 L572.51,538.01 L588.14,522.78 L598.56,492.45" fill="none" stroke="#000" stroke-width="1.1" stroke-linejoin="round"/>
<path d="M478.73,586.40 L489.15,584.27 L499.57,582.50 L515.20,580.02 L525.62,576.48 L536.04,572.23 L551.67,567.20 L562.09,559.12 L572.51,556.43" fill="none" stroke="#000" stroke-width="1.1" stroke-linejoin="round"/>
<path d="M478.73,586.40 L489.15,583.92 L499.57,582.15 L515.20,579.31 L525.62,575.06 L536.04,570.10 L551.67,563.73 L562.09,559.12 L572.51,560.19" fill="none" stroke="#000" stroke-width="1.1" stroke-linejoin="round"/>
<path d="M478.73,586.40 L489.15,584.98 L499.57,583.57 L515.20,582.15 L525.62,580.02 L536.04,577.19 L551.67,573.79 L572.51,569.40 L588.14,545.59" fill="none" stroke="#000" stroke-width="1.1" stroke-linejoin="round"/>
<path d="M478.73,586.40 L489.15,583.21 L499.57,580.73 L515.20,576.48 L525.62,570.81 L536.04,563.73 L551.67,551.97 L562.09,543.89 L572.51,530.43" fill="none" stroke="#000" stroke-width="1.1" stroke-linejoin="round"/>
<path d="M478.73,586.40 L489.15,584.27 L499.57,582.86 L515.20,580.73 L525.62,577.19 L536.04,572.23 L551.67,563.02 L562.09,550.98 L572.51,541.06" fill="none" stroke="#000" stroke-width="1.1" stroke-linejoin="round"/>
<path d="M478.73,586.40 L489.15,582.50 L499.57,579.31 L515.20,572.94 L525.62,565.14 L536.04,555.93 L551.67,543.89" fill="none" stroke="#000" stroke-width="1.1" stroke-linejoin="round"/>
<path d="M478.73,586.40 L489.15,583.57 L499.57,581.44 L515.20,577.90 L525.62,572.23 L536.04,565.85 L551.67,558.06 L562.09,548.14" fill="none" stroke="#000" stroke-width="1.1" stroke-linejoin="round"/>
<path d="M483.94,586.40 L489.15,581.44 L504.78,572.44 L515.20,566.77 L529.27,563.80 L539.69,557.14 L551.67,544.32 L566.26,540.35" fill="none" stroke="#e23a28" stroke-width="1.0" stroke-linejoin="round"/>
<path d="M515.20,586.40 L525.62,584.98 L536.04,582.86 L551.67,575.77 L561.57,567.20 L564.69,556.43 L571.47,535.81 L585.01,499.96 L598.56,455.61" fill="none" stroke="#e23a28" stroke-width="1.0" stroke-linejoin="round"/>
<path d="M515.20,586.40 L525.62,585.69 L536.04,583.57 L551.67,577.90 L562.09,568.69 L572.51,549.91 L578.76,532.48 L589.70,499.96 L598.56,463.19" fill="none" stroke="#e23a28" stroke-width="1.0" stroke-linejoin="round"/>
<line x1="601.00" y1="426.50" x2="622.70" y2="426.50" stroke="#000" stroke-width="1.2" stroke-linecap="butt"/>
<line x1="601.00" y1="446.40" x2="622.70" y2="446.40" stroke="#e23a28" stroke-width="1.2" stroke-linecap="butt"/>
<text x="625.57" y="430.90" font-size="13.8" fill="#000" >Diploid</text>
<text x="625.57" y="451.30" font-size="13.8" fill="#000" >Polyploid</text>
<text x="250.01" y="644.90" font-size="13.3" font-weight="bold" fill="#000" >F</text>
<line x1="315.70" y1="661.80" x2="315.70" y2="802.30" stroke="#000" stroke-width="1.3" stroke-linecap="butt"/>
<line x1="309.00" y1="802.30" x2="315.70" y2="802.30" stroke="#000" stroke-width="1.2" stroke-linecap="butt"/>
<line x1="309.00" y1="767.17" x2="315.70" y2="767.17" stroke="#000" stroke-width="1.2" stroke-linecap="butt"/>
<line x1="309.00" y1="732.05" x2="315.70" y2="732.05" stroke="#000" stroke-width="1.2" stroke-linecap="butt"/>
<line x1="309.00" y1="696.92" x2="315.70" y2="696.92" stroke="#000" stroke-width="1.2" stroke-linecap="butt"/>
<line x1="309.00" y1="661.80" x2="315.70" y2="661.80" stroke="#000" stroke-width="1.2" stroke-linecap="butt"/>
<line x1="315.10" y1="802.30" x2="411.20" y2="802.30" stroke="#000" stroke-width="1.5" stroke-linecap="butt"/>
<line x1="342.60" y1="802.30" x2="342.60" y2="806.40" stroke="#000" stroke-width="1.2" stroke-linecap="butt"/>
<line x1="383.80" y1="802.30" x2="383.80" y2="806.40" stroke="#000" stroke-width="1.2" stroke-linecap="butt"/>
<text x="288.71" y="672.30" font-size="13.8" fill="#000" >2.0</text>
<text x="289.33" y="708.70" font-size="13.8" fill="#000" style="font-kerning:none" > .5</text>
<path transform="translate(289.333,708.700) scale(0.006738,-0.006738)" d="M595,0 L595,1237 L277,1010 L277,1180 L610,1409 L776,1409 L776,0 Z" fill="#000"/>
<text x="287.03" y="742.40" font-size="13.8" fill="#000" style="font-kerning:none" > .0</text>
<path transform="translate(287.033,742.400) scale(0.006738,-0.006738)" d="M595,0 L595,1237 L277,1010 L277,1180 L610,1409 L776,1409 L776,0 Z" fill="#000"/>
<text x="288.36" y="774.00" font-size="13.8" fill="#000" >0.5</text>
<text x="287.46" y="807.30" font-size="13.8" fill="#000" >0.0</text>
<text x="335.11" y="825.90" font-size="13.8" fill="#000" >2N</text>
<text x="373.48" y="824.70" font-size="13.8" fill="#000" >4N</text>
<text x="337.11" y="665.50" font-size="13.8" fill="#000" >p=0.044</text>
<line x1="338.20" y1="672.20" x2="386.00" y2="672.20" stroke="#000" stroke-width="1.5" stroke-linecap="butt"/>
<text transform="translate(265.0,733.5) rotate(-89.25)" text-anchor="middle" font-size="14.0">Mean growth rate</text>
<text transform="translate(281.0,731.0) rotate(-90)" text-anchor="middle" font-size="14.0">(mm<tspan font-size="9" dy="-4.2">3</tspan><tspan dy="4.2">/day)</tspan></text>
<line x1="342.60" y1="728.50" x2="342.60" y2="742.30" stroke="#000" stroke-width="1.2" stroke-linecap="butt"/>
<line x1="336.00" y1="728.50" x2="349.90" y2="728.50" stroke="#000" stroke-width="1.2" stroke-linecap="butt"/>
<line x1="336.00" y1="742.30" x2="349.90" y2="742.30" stroke="#000" stroke-width="1.2" stroke-linecap="butt"/>
<line x1="383.80" y1="751.40" x2="383.80" y2="771.10" stroke="#888" stroke-width="1.2" stroke-linecap="butt"/>
<line x1="376.90" y1="751.40" x2="390.80" y2="751.40" stroke="#000" stroke-width="1.2" stroke-linecap="butt"/>
<line x1="376.90" y1="771.10" x2="390.80" y2="771.10" stroke="#999" stroke-width="1.2" stroke-linecap="butt"/>
<circle cx="342.60" cy="702.10" r="2.2" fill="#000"/>
<circle cx="334.20" cy="707.20" r="2.2" fill="#000"/>
<circle cx="334.20" cy="712.00" r="2.2" fill="#000"/>
<circle cx="342.60" cy="710.10" r="2.2" fill="#000"/>
<circle cx="351.40" cy="707.70" r="2.2" fill="#000"/>
<circle cx="351.40" cy="713.20" r="2.2" fill="#000"/>
<circle cx="342.60" cy="722.20" r="2.2" fill="#000"/>
<circle cx="342.60" cy="732.80" r="2.2" fill="#000"/>
<circle cx="338.20" cy="746.30" r="2.2" fill="#000"/>
<circle cx="347.00" cy="746.30" r="2.2" fill="#000"/>
<circle cx="342.60" cy="758.20" r="2.2" fill="#000"/>
<circle cx="342.60" cy="762.80" r="2.2" fill="#000"/>
<circle cx="338.20" cy="768.60" r="2.2" fill="#000"/>
<circle cx="347.00" cy="768.60" r="2.2" fill="#000"/>
<circle cx="342.60" cy="777.70" r="2.2" fill="#000"/>
<circle cx="379.60" cy="709.60" r="2.2" fill="#000"/>
<circle cx="388.20" cy="709.10" r="2.2" fill="#000"/>
<circle cx="383.80" cy="716.00" r="2.2" fill="#000"/>
<circle cx="383.80" cy="724.30" r="2.2" fill="#000"/>
<circle cx="383.80" cy="749.90" r="2.2" fill="#000"/>
<circle cx="383.80" cy="768.20" r="2.2" fill="#000"/>
<circle cx="374.70" cy="778.70" r="2.2" fill="#000"/>
<circle cx="383.80" cy="778.40" r="2.2" fill="#000"/>
<circle cx="392.60" cy="781.60" r="2.2" fill="#000"/>
<circle cx="383.80" cy="784.70" r="2.2" fill="#000"/>
<circle cx="383.80" cy="789.00" r="2.2" fill="#000"/>
<circle cx="379.10" cy="802.20" r="2.2" fill="#000"/>
<circle cx="387.90" cy="802.20" r="2.2" fill="#000"/>
<line x1="329.00" y1="735.30" x2="356.50" y2="735.30" stroke="#000" stroke-width="1.6" stroke-linecap="butt"/>
<line x1="370.10" y1="761.20" x2="397.40" y2="761.20" stroke="#000" stroke-width="1.6" stroke-linecap="butt"/>
</svg></body></html>
